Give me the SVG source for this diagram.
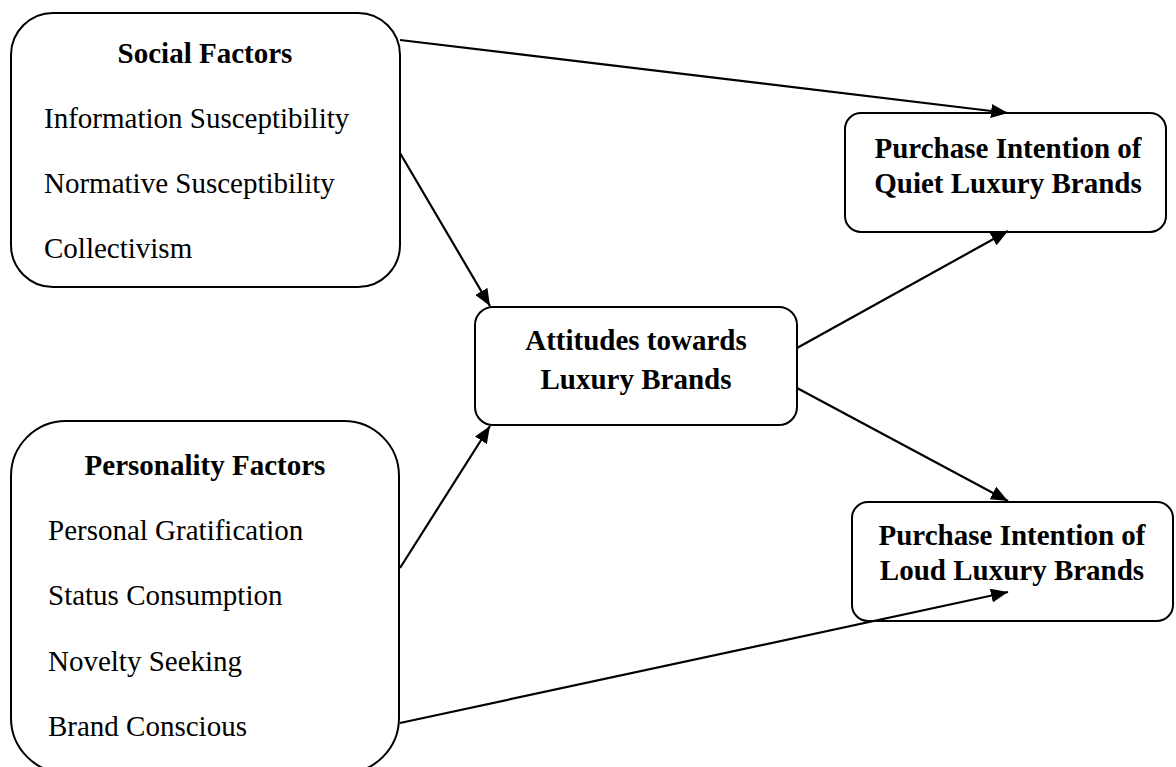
<svg xmlns="http://www.w3.org/2000/svg" width="1176" height="767" viewBox="0 0 1176 767">
<defs>
<marker id="arr" markerUnits="userSpaceOnUse" markerWidth="18" markerHeight="14" viewBox="0 0 18 14" refX="17" refY="7" orient="auto">
<path d="M0,0 L17,7 L0,14 Z" fill="#000"/>
</marker>
<style>
.box{fill:#fff;stroke:#000;stroke-width:2}
.t{font-family:"Liberation Serif","Times New Roman",serif;font-size:29px;fill:#000}
.b{font-weight:bold}
.c{text-anchor:middle}
.conn line{stroke:#000;stroke-width:2.2;marker-end:url(#arr)}
</style>
</defs>
<rect width="1176" height="767" fill="#fff"/>
<g id="social">
<rect class="box" x="11" y="13" width="389" height="274" rx="42" ry="42"/>
<text class="t b c" x="205" y="63">Social Factors</text>
<text class="t" x="44" y="128">Information Susceptibility</text>
<text class="t" x="44" y="193">Normative Susceptibility</text>
<text class="t" x="44" y="258">Collectivism</text>
</g>
<g id="personality">
<rect class="box" x="11" y="421" width="388" height="352" rx="55" ry="55"/>
<text class="t b c" x="205" y="475">Personality Factors</text>
<text class="t" x="48" y="540">Personal Gratification</text>
<text class="t" x="48" y="605">Status Consumption</text>
<text class="t" x="48" y="671">Novelty Seeking</text>
<text class="t" x="48" y="736">Brand Conscious</text>
</g>
<g id="attitudes">
<rect class="box" x="475" y="307" width="322" height="118" rx="18" ry="18"/>
<text class="t b c" x="636" y="350">Attitudes towards</text>
<text class="t b c" x="636" y="389">Luxury Brands</text>
</g>
<g id="quiet">
<rect class="box" x="845" y="113" width="321" height="119" rx="16" ry="16"/>
<text class="t b c" x="1008" y="158">Purchase Intention of</text>
<text class="t b c" x="1008" y="193">Quiet Luxury Brands</text>
</g>
<g id="loud">
<rect class="box" x="852" y="502" width="321" height="119" rx="16" ry="16"/>
<text class="t b c" x="1012" y="545">Purchase Intention of</text>
<text class="t b c" x="1012" y="580">Loud Luxury Brands</text>
</g>
<g id="connectors" class="conn">
<line x1="400" y1="40" x2="1008" y2="113"/>
<line x1="400" y1="153" x2="490" y2="306"/>
<line x1="400" y1="568" x2="490" y2="426"/>
<line x1="797" y1="348" x2="1008" y2="231"/>
<line x1="797" y1="388" x2="1008" y2="501"/>
<line x1="400" y1="723" x2="1008" y2="592"/>
</g>
</svg>
